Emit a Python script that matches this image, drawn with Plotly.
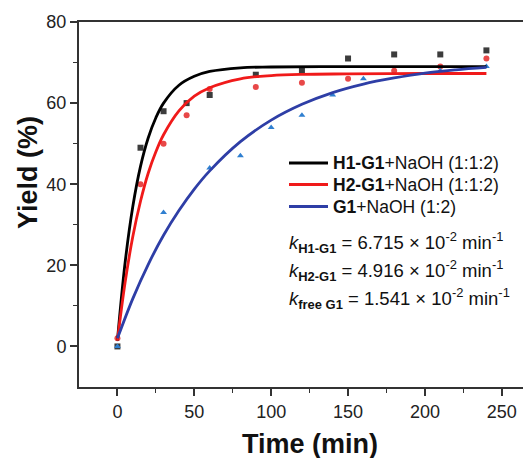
import plotly.graph_objects as go

# ---- measured data ----
t_h1 = [0, 15, 30, 45, 60, 90, 120, 150, 180, 210, 240]
y_h1 = [0, 49, 58, 60, 62, 67, 68, 71, 72, 72, 73]

t_h2 = [0, 15, 30, 45, 60, 90, 120, 150, 180, 210, 240]
y_h2 = [2, 40, 50, 57, 63.5, 64, 65, 66, 68, 69, 71]

t_g1 = [0, 30, 60, 80, 100, 120, 140, 160, 210, 240]
y_g1 = [0, 33, 44, 47, 54, 57, 62, 66, 68, 69]

# ---- fitted curves ----
fit_t_h1 = [0, 5, 10, 15, 20, 25, 30, 40, 50, 60, 80, 100, 150, 200, 240]
fit_y_h1 = [1.5, 20.7, 34.5, 44.4, 51.4, 56.4, 60.0, 64.4, 66.6, 67.8, 68.7, 68.9, 69.0, 69.0, 69.0]

fit_t_h2 = [0, 5, 10, 15, 20, 25, 30, 40, 50, 60, 80, 100, 120, 150, 200, 240]
fit_y_h2 = [1.5, 15.8, 27.1, 35.8, 42.7, 48.0, 52.2, 58.1, 61.7, 63.8, 66.0, 66.8, 67.1, 67.2, 67.3, 67.3]

fit_t_g1 = [0, 10, 20, 30, 40, 50, 60, 80, 100, 120, 140, 160, 180, 200, 220, 240]
fit_y_g1 = [2, 11.8, 20.2, 27.4, 33.5, 38.8, 43.3, 50.5, 55.8, 59.7, 62.6, 64.7, 66.2, 67.4, 68.2, 68.8]

names = ["<b>H1-G1</b>+NaOH (1:1:2)", "<b>H2-G1</b>+NaOH (1:1:2)", "<b>G1</b>+NaOH (1:2)"]
k_labels = ["H1-G1", "H2-G1", "free G1"]
k_values = ["6.715", "4.916", "1.541"]

line_colors = ["#000000", "#f01a1a", "#2e3ea6"]
marker_colors = ["#3c3c3c", "#e84848", "#2f7fd0"]
marker_symbols = ["square", "circle", "triangle-up"]

FONT = "Liberation Sans, Arial, sans-serif"

# layout geometry (figure is drawn inside the page's 8px body margin)
W, H = 523, 450
ML, MT, MB = 71, 14, 71
PW, PH = W - ML, H - MT - MB


def px_x(page_x):
    return (page_x - 8 - ML) / PW


def px_y(page_y):
    return (H - MB - (page_y - 8)) / PH


fig = go.Figure()
series = [(t_h1, y_h1, fit_t_h1, fit_y_h1), (t_h2, y_h2, fit_t_h2, fit_y_h2), (t_g1, y_g1, fit_t_g1, fit_y_g1)]
for i, (tx, ty, ft, fy) in enumerate(series):
    fig.add_trace(go.Scatter(x=tx, y=ty, mode="markers", showlegend=False,
                             marker=dict(symbol=marker_symbols[i], size=6, color=marker_colors[i])))
for i, (tx, ty, ft, fy) in enumerate(series):
    fig.add_trace(go.Scatter(x=ft, y=fy, mode="lines", name=names[i], showlegend=False,
                             line=dict(color=line_colors[i], width=2.8, shape="spline", smoothing=1.0)))

ann = []
shapes = []
leg_rows = [163, 184.5, 206.5]
for i in range(3):
    shapes.append(dict(type="line", xref="paper", yref="paper",
                       x0=px_x(289), x1=px_x(328), y0=px_y(leg_rows[i]), y1=px_y(leg_rows[i]),
                       line=dict(color=line_colors[i], width=3)))
    ann.append(dict(xref="paper", yref="paper", x=px_x(331), y=px_y(leg_rows[i]), xanchor="left",
                    yanchor="middle", showarrow=False, font=dict(family=FONT, size=17.5, color="#111"),
                    text=names[i]))

k_rows = [242, 270, 298]
for i in range(3):
    ann.append(dict(xref="paper", yref="paper", x=px_x(287), y=px_y(k_rows[i]), xanchor="left", yanchor="middle",
                    showarrow=False, font=dict(family=FONT, size=18.5, color="#111"),
                    text=f"<i>k</i><sub><b>{k_labels[i]}</b></sub> = {k_values[i]} × 10<sup>-2</sup> min<sup>-1</sup>"))
ann.append(dict(xref="paper", yref="paper", x=px_x(28), y=px_y(173), textangle=-90,
                showarrow=False, xanchor="center", yanchor="middle",
                font=dict(family=FONT, size=27, color="#111"), text="<b>Yield (%)</b>"))
ann.append(dict(xref="paper", yref="paper", x=px_x(310), y=px_y(444),
                showarrow=False, xanchor="center", yanchor="middle",
                font=dict(family=FONT, size=27, color="#111"), text="<b>Time (min)</b>"))

fig.update_layout(
    width=W, height=H,
    margin=dict(l=ML, r=0, t=MT, b=MB),
    paper_bgcolor="white", plot_bgcolor="white",
    font=dict(family=FONT, size=18, color="#222"),
    showlegend=False,
    annotations=ann,
    shapes=shapes,
    xaxis=dict(range=[-25, 269], tickvals=[0, 50, 100, 150, 200, 250], showgrid=False, zeroline=False,
               showline=True, linecolor="#333", linewidth=2, mirror=True,
               ticks="outside", ticklen=7, tickwidth=1.5, tickcolor="#333",
               minor=dict(tickvals=[25, 75, 125, 175, 225], ticks="outside", ticklen=4, tickwidth=1.2, tickcolor="#333"),
               tickfont=dict(family=FONT, size=18, color="#222")),
    yaxis=dict(range=[-10, 80], tickvals=[0, 20, 40, 60, 80], showgrid=False, zeroline=False,
               showline=True, linecolor="#333", linewidth=2,
               ticks="outside", ticklen=7, tickwidth=1.5, tickcolor="#333",
               minor=dict(tickvals=[10, 30, 50, 70], ticks="outside", ticklen=4, tickwidth=1.2, tickcolor="#333"),
               tickfont=dict(family=FONT, size=18, color="#222")),
)

fig.write_html("out.html")
